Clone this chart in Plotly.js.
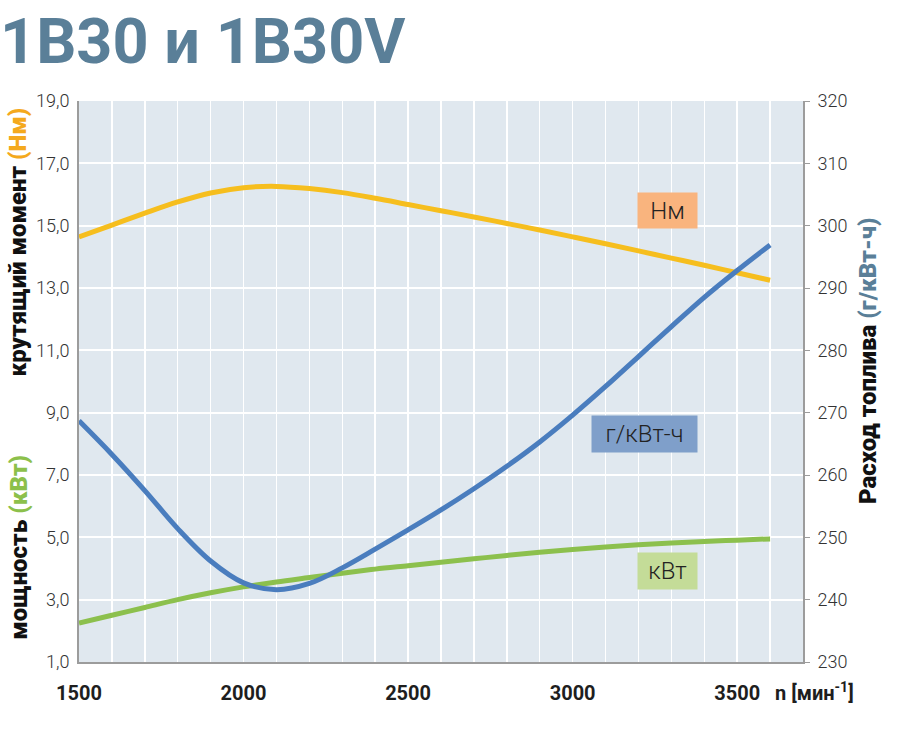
<!DOCTYPE html>
<html>
<head>
<meta charset="utf-8">
<script src="https://cdn.plot.ly/plotly-3.0.1.min.js"></script>
<style>
  html, body { margin: 0; padding: 0; background: #ffffff; }
  #chart { width: 906px; height: 738px; }
</style>
</head>
<body>
<div id="chart"></div>
<script>
// Engine speed, rpm.
const rpm = [1500, 1600, 1700, 1800, 1900, 2000, 2100, 2200, 2300, 2400, 2500,
             2600, 2700, 2800, 2900, 3000, 3100, 3200, 3300, 3400, 3500, 3600];

// Torque, Nm (left axis).
const torque = [14.64, 15.02, 15.40, 15.76, 16.05, 16.22, 16.26, 16.19, 16.06, 15.88, 15.68,
                15.48, 15.28, 15.07, 14.86, 14.64, 14.42, 14.19, 13.96, 13.73, 13.49, 13.25];

// Power, kW (left axis).
const power = [2.25, 2.50, 2.75, 3.00, 3.22, 3.41, 3.57, 3.71, 3.85, 3.98, 4.09,
               4.20, 4.31, 4.42, 4.52, 4.61, 4.69, 4.76, 4.82, 4.87, 4.91, 4.95];

// Specific fuel consumption, g/kWh (right axis).
const fuel = [268.7, 263.3, 257.5, 251.4, 246.2, 242.7, 241.6, 242.6, 245.1, 248.1, 251.2,
              254.4, 257.8, 261.4, 265.3, 269.6, 274.2, 279.0, 283.8, 288.5, 292.8, 296.9];

// Tick labels.
const xTickVals = [1500, 2000, 2500, 3000, 3500];
const xTickText = ["1500", "2000", "2500", "3000", "3500"];
const yTickVals = [1, 3, 5, 7, 9, 11, 13, 15, 17, 19];
const yTickText = ["1,0", "3,0", "5,0", "7,0", "9,0", "11,0", "13,0", "15,0", "17,0", "19,0"];
const y2TickVals = [230, 240, 250, 260, 270, 280, 290, 300, 310, 320];
const y2TickText = ["230", "240", "250", "260", "270", "280", "290", "300", "310", "320"];

const colTorque = "#f6be1e";
const colPower = "#8cc04d";
const colFuel = "#4a7dbe";
const colTitle = "#5a7f98";
const axisGrey = "#9c9c9c";

function lineTrace(y, color, yaxis) {
  return {
    x: rpm,
    y: y,
    yaxis: yaxis,
    mode: "lines",
    line: {color: color, width: 5, shape: "spline", smoothing: 1.0},
    hoverinfo: "skip"
  };
}

const data = [
  lineTrace(power, colPower, "y"),
  lineTrace(torque, colTorque, "y"),
  lineTrace(fuel, colFuel, "y2")
];

const tickFontLight = {family: "Roboto", size: 18, color: "#333333", weight: 300};
const boxFont = {family: "Roboto", size: 24, color: "#222222", weight: 300};
const sideTitleFont = {family: "Roboto", size: 24, color: "#111111", weight: 900};

const layout = {
  width: 906,
  height: 738,
  margin: {l: 79, r: 103, t: 101, b: 76},
  paper_bgcolor: "#ffffff",
  plot_bgcolor: "#e0e8ef",
  showlegend: false,
  title: {
    text: "1B30 и 1B30V",
    x: 0.0,
    xref: "container",
    xanchor: "left",
    y: 0.945,
    yanchor: "middle",
    font: {family: "Roboto", size: 63, color: colTitle, weight: "bold"}
  },
  xaxis: {
    range: [1500, 3700],
    tickvals: xTickVals,
    ticktext: xTickText,
    showgrid: true,
    gridcolor: "#ffffff",
    gridwidth: 1.5,
    minor: {dtick: 100, showgrid: true, gridcolor: "#ffffff", gridwidth: 1.5},
    showline: true,
    linecolor: axisGrey,
    linewidth: 2,
    ticks: "",
    zeroline: false,
    ticklabelstandoff: 12,
    tickfont: {family: "Roboto", size: 20, color: "#1e1e1e", weight: "bold"}
  },
  yaxis: {
    range: [1, 19],
    tickvals: yTickVals,
    ticktext: yTickText,
    showgrid: true,
    gridcolor: "#ffffff",
    gridwidth: 2,
    showline: true,
    linecolor: axisGrey,
    linewidth: 2,
    ticks: "",
    zeroline: false,
    ticklabelstandoff: 4,
    tickfont: tickFontLight
  },
  yaxis2: {
    range: [230, 320],
    overlaying: "y",
    side: "right",
    tickvals: y2TickVals,
    ticktext: y2TickText,
    showgrid: false,
    showline: true,
    linecolor: axisGrey,
    linewidth: 2,
    ticks: "outside",
    ticklen: 5,
    tickwidth: 1,
    tickcolor: axisGrey,
    zeroline: false,
    ticklabelstandoff: 4,
    tickfont: tickFontLight
  },
  annotations: [
    // Series labels in coloured boxes.
    {x: 3380, y: 15.48, xref: "x", yref: "y", xanchor: "right", yanchor: "middle",
     text: "Нм", showarrow: false, width: 59, height: 35, borderpad: 0,
     bgcolor: "#f9b47e", font: boxFont},
    {x: 3380, y: 266.6, xref: "x", yref: "y2", xanchor: "right", yanchor: "middle",
     text: "г/кВт-ч", showarrow: false, width: 105, height: 36, borderpad: 0,
     bgcolor: "#7f9fca", font: boxFont},
    {x: 3380, y: 3.91, xref: "x", yref: "y", xanchor: "right", yanchor: "middle",
     text: "кВт", showarrow: false, width: 59, height: 36, borderpad: 0,
     bgcolor: "#c4dc98", font: boxFont},
    // Axis titles.
    {x: -0.084, y: 0.748, xref: "paper", yref: "paper", xanchor: "center", yanchor: "middle",
     textangle: -90, showarrow: false, font: sideTitleFont,
     text: "крутящий момент <span style='color:#f4a91d'>(Нм)</span>"},
    {x: -0.084, y: 0.204, xref: "paper", yref: "paper", xanchor: "center", yanchor: "middle",
     textangle: -90, showarrow: false, font: sideTitleFont,
     text: "мощность <span style='color:#8cc04b'>(кВт)</span>"},
    {x: 1.09, y: 0.537, xref: "paper", yref: "paper", xanchor: "center", yanchor: "middle",
     textangle: -90, showarrow: false, font: sideTitleFont,
     text: "Расход топлива <span style='color:" + colTitle + "'>(г/кВт-ч)</span>"},
    {x: 0.9586, y: -0.054, xref: "paper", yref: "paper", xanchor: "left", yanchor: "middle",
     showarrow: false, font: {family: "Roboto", size: 20, color: "#1e1e1e", weight: "bold"},
     text: "n [мин<sup>-1</sup>]"}
  ]
};

Plotly.newPlot("chart", data, layout, {displayModeBar: false, staticPlot: true});
</script>
</body>
</html>
